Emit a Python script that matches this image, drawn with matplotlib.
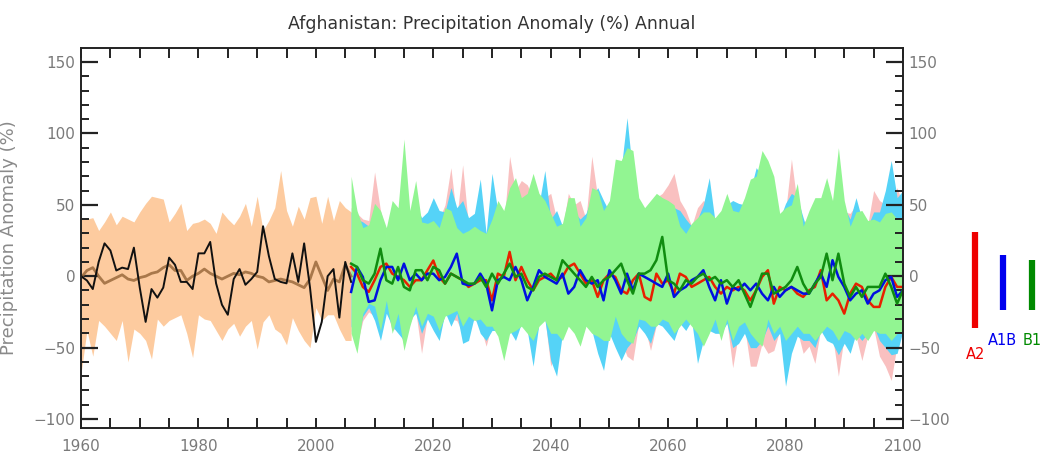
import numpy as np
import matplotlib
matplotlib.use("Agg")
import matplotlib.pyplot as plt
from matplotlib.ticker import MultipleLocator

# ---- data (precipitation anomaly, %) ----
hist_years = np.arange(1960, 2007)
obs = [0, -3, -9, 10, 23, 18, 4, 6, 5, 20, -8, -32, -9, -15, -8, 13, 8, -4, -4, -9,
       16, 16, 24, -5, -20, -27, -2, 5, -6, -2, 3, 35, 14, -2, -4, -5, 16, -4, 23, -8,
       -46, -32, 0, 5, -29, 10, -4]
hist_mean = [-1, 4, 6, 0, -5, -3, -1, 1, -2, -3, -1, 0, 2, 3, 6, 8, 4, 4, -3, 0,
             2, 5, 2, 0, -2, 0, 2, 1, 3, 2, 0, -1, -4, -3, -2, -3, -4, -6, -8, -2,
             10, 0, -10, -2, -4, 8, 0]
hist_hi = [40, 40, 41, 32, 38, 45, 36, 42, 40, 38, 45, 51, 56, 55, 54, 38, 44, 51, 32, 37,
           38, 40, 37, 30, 45, 40, 36, 42, 51, 35, 56, 32, 39, 48, 74, 46, 35, 49, 40, 55,
           56, 37, 56, 39, 53, 48, 45]
hist_lo = [-68, -38, -56, -31, -35, -40, -45, -31, -60, -37, -40, -45, -58, -30, -35, -31,
           -29, -27, -40, -57, -27, -30, -31, -38, -45, -37, -33, -42, -35, -31, -51, -32,
           -27, -37, -40, -48, -29, -38, -45, -50, -22, -31, -27, -27, -37, -45, -45]

fut_years = np.arange(2006, 2101)
# A2 (pink band, red line)
a2_hi = [48, 44, 40, 39, 73, 46, 30, 48, 42, 50, 40, 45, 36, 40, 45, 40, 50, 76, 40, 78,
         35, 36, 45, 28, 45, 48, 35, 84, 60, 67, 64, 55, 50, 55, 58, 40, 33, 58, 50, 53,
         40, 84, 55, 45, 46, 60, 60, 70, 60, 50, 44, 50, 55, 58, 64, 72, 53, 46, 35, 48,
         53, 50, 36, 42, 50, 45, 44, 48, 55, 60, 62, 60, 55, 42, 45, 82, 50, 38, 40, 48,
         50, 55, 45, 65, 45, 44, 50, 42, 36, 60, 53, 50, 55, 62, 50]
a2_lo = [-38, -48, -31, -25, -28, -40, -22, -38, -35, -48, -33, -24, -54, -28, -33, -40,
         -26, -30, -31, -40, -35, -30, -35, -49, -33, -40, -52, -37, -40, -34, -37, -50,
         -34, -29, -63, -50, -42, -34, -37, -47, -34, -37, -45, -50, -42, -40, -45, -56,
         -59, -33, -35, -52, -34, -33, -35, -42, -34, -33, -33, -45, -47, -37, -35, -42,
         -31, -64, -40, -35, -63, -63, -47, -54, -52, -38, -55, -45, -38, -54, -49, -61,
         -37, -40, -42, -70, -42, -45, -42, -59, -42, -36, -56, -63, -73, -48, -37]
a2_mid = [6.5, 1.8, -7.5, -11, -2.8, 6.5, 8.8, 1.8, -0.5, -2.8, -7.5, -2.8, -2.8, 4.2, 11,
          -0.5, -5.2, 1.8, -0.5, -2.8, -7.5, -5.2, -2.8, -2.8, -16.9, 1.8, -0.5, 17, -2.8,
          6.5, -2.8, -9.9, -2.8, -0.5, 1.8, -2.8, -0.5, 6.5, 8.8, 1.8, -5.2, -2.8, -14.5,
          -2.8, 1.8, -0.5, -9.9, -12.2, -2.8, 1.8, -14.5, -16.9, 1.8, -5.2, -2.8, -12.2,
          1.8, -0.5, -7.5, -5.2, -2.8, -0.5, -7.5, -12.2, -7.5, -9.9, -7.5, -9.9, -16.9,
          -9.9, -0.5, 4.2, -19.2, -7.5, -9.9, -7.5, -12.2, -14.5, -9.9, -7.5, 4.2, -16.9,
          -12.2, -16.9, -26.2, -12.2, -5.2, -7.5, -16.9, -21.5, -21.5, -7.5, -0.5, -7.5, -7.5]
# A1B (cyan band, blue line)
a1b_hi = [45, 40, 38, 35, 45, 44, 32, 45, 44, 50, 42, 50, 41, 45, 55, 46, 45, 62, 48, 53,
          41, 44, 68, 30, 72, 45, 40, 50, 55, 50, 50, 60, 50, 74, 40, 46, 35, 50, 45, 40,
          44, 55, 62, 53, 45, 70, 75, 111, 70, 53, 45, 48, 52, 50, 50, 48, 46, 40, 35, 40,
          50, 69, 38, 40, 50, 53, 51, 50, 60, 76, 70, 70, 60, 40, 51, 58, 55, 41, 28, 50,
          48, 60, 48, 70, 48, 40, 55, 40, 35, 45, 45, 60, 81, 55, 60]
a1b_lo = [-35, -45, -28, -22, -31, -45, -26, -35, -40, -45, -30, -26, -40, -30, -38, -45,
          -25, -35, -26, -47, -45, -28, -40, -45, -38, -38, -50, -38, -45, -33, -38, -63,
          -33, -30, -59, -70, -40, -33, -38, -45, -33, -38, -54, -66, -40, -50, -59, -50,
          -45, -35, -40, -47, -33, -35, -40, -45, -33, -38, -31, -61, -45, -38, -40, -40,
          -33, -50, -47, -40, -50, -50, -45, -35, -45, -40, -77, -54, -42, -45, -45, -50,
          -38, -45, -47, -55, -47, -54, -40, -45, -40, -35, -45, -50, -55, -54, -38]
a1b_mid = [-11, 6.5, -0.5, -18, -16.9, -2.8, 6.5, 6.5, -2.8, 8.8, -2.8, 1.8, -2.8, 1.8, 1.8,
           -2.8, -0.5, 6.5, 15.8, -5.2, -6.3, -5.2, 1.8, -5.2, -23.9, -2.8, -0.5, -2.8, 6.5,
           -2.8, -16.9, -7.5, 4.2, -0.5, -2.8, -5.2, 1.8, -12.2, -7.5, 4.2, -2.8, -5.2, -2.8,
           -16.9, 4.2, -2.8, -12.2, 1.8, -9.9, 1.8, -0.5, -2.8, -5.2, -7.5, 1.8, -14.5, -9.9,
           -7.5, -2.8, -0.5, 4.2, -7.5, -16.9, -2.8, -19.2, -7.5, -9.9, -5.2, -9.9, -5.2,
           -12.2, -16.9, -7.5, -14.5, -9.9, -7.5, -9.9, -12.2, -12.2, -5.2, 1.8, -7.5, 11.2,
           -0.5, -7.5, -16.9, -12.2, -9.9, -19.2, -12.2, -9.9, -2.8, -0.5, -14.5, -9.9]
# B1 (green band, green line)
b1_hi = [70, 46, 34, 36, 51, 46, 34, 53, 48, 96, 46, 67, 38, 37, 39, 34, 48, 46, 34, 30,
         32, 35, 32, 30, 40, 53, 46, 62, 69, 55, 58, 72, 58, 53, 44, 35, 37, 55, 55, 35,
         41, 62, 60, 46, 53, 82, 81, 90, 88, 55, 48, 53, 58, 55, 53, 50, 35, 30, 37, 41,
         45, 45, 41, 46, 58, 46, 45, 55, 68, 70, 88, 81, 70, 44, 48, 50, 65, 35, 46, 55,
         55, 69, 53, 90, 53, 35, 45, 46, 39, 40, 38, 44, 45, 40, 41]
b1_lo = [-40, -54, -26, -19, -21, -38, -17, -40, -26, -52, -35, -21, -35, -26, -28, -38,
         -28, -26, -24, -35, -28, -31, -30, -35, -35, -42, -59, -40, -38, -35, -40, -45,
         -35, -31, -40, -40, -45, -35, -40, -49, -35, -40, -42, -45, -45, -28, -40, -45,
         -47, -30, -31, -35, -35, -30, -32, -40, -35, -30, -35, -40, -49, -40, -30, -45,
         -30, -45, -35, -32, -40, -45, -49, -30, -40, -35, -45, -40, -35, -40, -40, -45,
         -40, -35, -38, -45, -38, -40, -45, -40, -45, -38, -40, -40, -45, -40, -40]
b1_mid = [8.8, 6.5, -2.8, -5.2, 1.8, 19.3, -2.8, -5.2, 6.5, -7.5, -9.9, 4.2, 4.2, -2.8, 6.5,
          4.2, -5.2, 1.8, -0.5, -2.8, -5.2, -5.2, -0.5, -7.5, 1.8, -5.2, 1.8, 8.8, -0.5, 1.8,
          -7.5, -9.9, -0.5, 1.8, -0.5, -2.8, 11.2, 6.5, 1.8, -2.8, -7.5, -0.5, -7.5, -2.8,
          -0.5, 4.2, 8.8, -2.8, -12.2, 1.8, 1.8, 4.2, 11.2, 27.5, -2.8, -5.2, -9.9, -2.8,
          -5.2, -0.5, 1.8, -2.8, -0.5, -5.2, -2.8, -7.5, -2.8, -12.2, -21.5, -9.9, 1.8, 1.8,
          -12.2, -9.9, -7.5, -2.8, 6.5, -5.2, -12.2, -5.2, -0.5, 15.8, -2.8, 15.8, -5.2,
          -14.5, -7.5, -14.5, -7.5, -7.5, -7.5, 1.8, -7.5, -19.2, -9.9]

# range bars shown to the right of the plot
legend_names = ["A2", "A1B", "B1"]
legend_colors = ["#ee0000", "#0000ee", "#008a00"]
legend_lo = [-36, -24, -24]
legend_hi = [31, 15, 11]

# ---- figure ----
fig = plt.figure(figsize=(10.54, 4.76), dpi=100)
ax = fig.add_axes([0.0769, 0.1008, 0.7798, 0.7984])

ax.fill_between(hist_years, hist_lo, hist_hi, color="#fdcb9f", lw=0)
ax.plot(hist_years, hist_mean, color="#9a6a3c", lw=2.0, alpha=0.85)
ax.plot(hist_years, obs, color="#111111", lw=1.4)

ax.fill_between(fut_years, a2_lo, a2_hi, color="#f9c0c0", lw=0)
ax.fill_between(fut_years, a1b_lo, a1b_hi, color="#55d3f7", lw=0)
ax.fill_between(fut_years, b1_lo, b1_hi, color="#92f592", lw=0)
ax.plot(fut_years, a2_mid, color="#e82000", lw=1.8)
ax.plot(fut_years, a1b_mid, color="#0010e0", lw=1.8)
ax.plot(fut_years, b1_mid, color="#108c10", lw=1.8)

# range bars with labels (outside the axes)
bar_x = [2112.3, 2117.0, 2122.0]
label_y = [-55, -45, -45]
for bx, lo, hi, c, name, ly in zip(bar_x, legend_lo, legend_hi, legend_colors,
                                   legend_names, label_y):
    ax.vlines(bx, lo, hi, color=c, lw=4.5, clip_on=False)
    ax.text(bx, ly, name, color=c, fontsize=10.5, ha="center", va="center",
            clip_on=False)

ax.set_xlim(1960, 2100)
ax.set_ylim(-106.3, 159.8)
ax.xaxis.set_major_locator(MultipleLocator(20))
ax.xaxis.set_minor_locator(MultipleLocator(5))
ax.yaxis.set_major_locator(MultipleLocator(50))
ax.yaxis.set_minor_locator(MultipleLocator(10))
ax.tick_params(which="both", direction="in", top=True, right=True,
               labelright=True, labelsize=11, labelcolor="#7a7a7a", color="#222222")
ax.tick_params(axis="y", which="major", length=12, width=1.6, pad=4)
ax.tick_params(axis="y", which="minor", length=6, width=1.4)
ax.tick_params(axis="x", which="both", length=7, width=1.4, pad=8)
for s in ax.spines.values():
    s.set_linewidth(1.4)
    s.set_color("#222222")

ax.set_title("Afghanistan: Precipitation Anomaly (%) Annual", fontsize=12.5,
             color="#333333", pad=14)
ax.set_ylabel("Precipitation Anomaly (%)", fontsize=13, color="#8a8a8a")
ax.yaxis.set_label_coords(-0.077, 0.5)

fig.savefig("out.png", dpi=100)
